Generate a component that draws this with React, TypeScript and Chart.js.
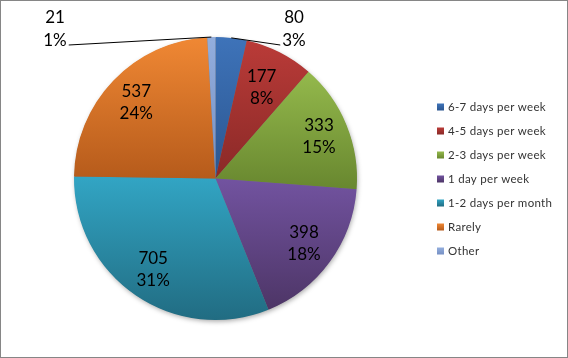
import React, { useEffect, useRef } from 'react';
import { Chart, registerables } from 'chart.js';

Chart.register(...registerables);

const categories = [
  '6-7 days per week',
  '4-5 days per week',
  '2-3 days per week',
  '1 day per week',
  '1-2 days per month',
  'Rarely',
  'Other',
];
const counts = [80, 177, 333, 398, 705, 537, 21];
const percentLabels = ['3%', '8%', '15%', '18%', '31%', '24%', '1%'];

const topColors = ['#3E73B9', '#BA3B38', '#94B94C', '#7253A0', '#32A5C4', '#F08834', '#93AEDD'];
const bottomColors = ['#2B5690', '#8A2927', '#68872F', '#4D3566', '#216C82', '#B65B1B', '#7690C4'];

// label placement styles
const innerLabelRadius = [0.775, 0.72, 0.79, 0.775, 0.78, 0.775, 0.775];
const outsideLabelDx: (number | null)[] = [78.5, null, null, null, null, null, -160.5];
const LABEL_FONT = '17px Lato, "Liberation Sans", Arial, sans-serif';
const LEGEND_FONT = '11.5px Lato, "Liberation Sans", Arial, sans-serif';

const total = counts.reduce((a, b) => a + b, 0);

function sliceGradient(c: any) {
  const i = c.dataIndex;
  const chart = c.chart;
  const area = chart.chartArea;
  if (i === undefined || !area) return topColors[i ?? 0];
  const cy = (area.top + area.bottom) / 2;
  const r = Math.min(area.right - area.left, area.bottom - area.top) / 2;
  let before = 0;
  for (let k = 0; k < i; k++) before += counts[k];
  const a0 = -Math.PI / 2 + (before / total) * Math.PI * 2;
  const a1 = a0 + (counts[i] / total) * Math.PI * 2;
  let minY = cy;
  let maxY = cy;
  for (let k = 0; k <= 80; k++) {
    const a = a0 + ((a1 - a0) * k) / 80;
    const yy = cy + r * Math.sin(a);
    minY = Math.min(minY, yy);
    maxY = Math.max(maxY, yy);
  }
  if (maxY - minY < 1) maxY = minY + 1;
  const g = chart.ctx.createLinearGradient(0, minY, 0, maxY);
  g.addColorStop(0, topColors[i]);
  g.addColorStop(1, bottomColors[i]);
  return g;
}

const excelPiePlugin = {
  id: 'excelPie',
  beforeDatasetsDraw(chart: any) {
    const meta = chart.getDatasetMeta(0);
    const el = meta.data[0];
    if (!el) return;
    const p = el.getProps(['x', 'y', 'outerRadius'], true);
    const ctx = chart.ctx;
    ctx.save();
    ctx.shadowColor = 'rgba(0,0,0,0.35)';
    ctx.shadowBlur = 5;
    ctx.shadowOffsetX = 1;
    ctx.shadowOffsetY = 2;
    ctx.beginPath();
    ctx.arc(p.x, p.y, p.outerRadius - 0.5, 0, Math.PI * 2);
    ctx.fillStyle = '#777';
    ctx.fill();
    ctx.restore();
  },
  afterDatasetsDraw(chart: any) {
    const meta = chart.getDatasetMeta(0);
    const ctx = chart.ctx;
    ctx.save();
    ctx.font = LABEL_FONT;
    ctx.fillStyle = '#000';
    ctx.textAlign = 'center';
    ctx.textBaseline = 'middle';
    meta.data.forEach((el: any, i: number) => {
      const p = el.getProps(['x', 'y', 'startAngle', 'endAngle', 'outerRadius'], true);
      const mid = (p.startAngle + p.endAngle) / 2;
      const dx = outsideLabelDx[i];
      if (dx === null || dx === undefined) {
        const rr = p.outerRadius * innerLabelRadius[i];
        const lx = p.x + Math.cos(mid) * rr;
        const ly = p.y + Math.sin(mid) * rr;
        ctx.fillText(String(counts[i]), lx, ly - 11);
        ctx.fillText(percentLabels[i], lx, ly + 11);
      } else {
        const top = p.y - p.outerRadius;
        const lx = p.x + dx;
        ctx.fillText(String(counts[i]), lx, top - 19);
        ctx.fillText(percentLabels[i], lx, top + 4);
        const w = ctx.measureText(percentLabels[i]).width;
        const edgeX = dx > 0 ? lx - w / 2 - 2 : lx + w / 2 + 2;
        const ax = p.x + Math.cos(mid) * p.outerRadius;
        const ay = p.y + Math.sin(mid) * p.outerRadius;
        ctx.beginPath();
        ctx.moveTo(edgeX, top + 8);
        ctx.lineTo(ax, ay);
        ctx.strokeStyle = '#000';
        ctx.lineWidth = 1;
        ctx.stroke();
      }
    });
    ctx.restore();
  },
  afterDraw(chart: any) {
    const ctx = chart.ctx;
    const area = chart.chartArea;
    ctx.save();
    // legend
    const n = categories.length;
    const step = 24;
    const firstY = chart.height / 2 - ((n - 1) * step) / 2;
    const boxX = area.right + 6;
    ctx.font = LEGEND_FONT;
    try {
      (ctx as any).letterSpacing = '0.3px';
    } catch (e) {}
    ctx.textAlign = 'left';
    ctx.textBaseline = 'middle';
    categories.forEach((name, i) => {
      const yc = firstY + i * step;
      const g = ctx.createLinearGradient(0, yc - 3.5, 0, yc + 3.5);
      g.addColorStop(0, topColors[i]);
      g.addColorStop(1, bottomColors[i]);
      ctx.fillStyle = g;
      ctx.fillRect(boxX, yc - 3.5, 7, 7);
      ctx.fillStyle = '#333';
      ctx.fillText(name, boxX + 11, yc);
    });
    try {
      (ctx as any).letterSpacing = '0px';
    } catch (e) {}
    // outer border
    ctx.strokeStyle = '#868686';
    ctx.lineWidth = 1;
    ctx.strokeRect(0.5, 0.5, chart.width - 1, chart.height - 1);
    ctx.restore();
  },
};

export default function App() {
  const canvasRef = useRef<HTMLCanvasElement | null>(null);

  useEffect(() => {
    const canvas = canvasRef.current;
    if (!canvas) return;
    const chart = new Chart(canvas, {
      type: 'pie',
      data: {
        labels: categories,
        datasets: [
          {
            data: counts,
            backgroundColor: sliceGradient as any,
            borderWidth: 0,
          },
        ],
      },
      options: {
        responsive: false,
        animation: false,
        devicePixelRatio: 1,
        layout: { padding: { top: 37, bottom: 38, left: 0, right: 137 } },
        plugins: {
          legend: { display: false },
          tooltip: { enabled: false },
        },
      },
      plugins: [excelPiePlugin],
    });
    return () => chart.destroy();
  }, []);

  return (
    <div style={{ position: 'absolute', left: 0, top: 0, width: 568, height: 358, background: '#fff' }}>
      <canvas ref={canvasRef} width={568} height={358} style={{ display: 'block', width: 568, height: 358 }} />
    </div>
  );
}
